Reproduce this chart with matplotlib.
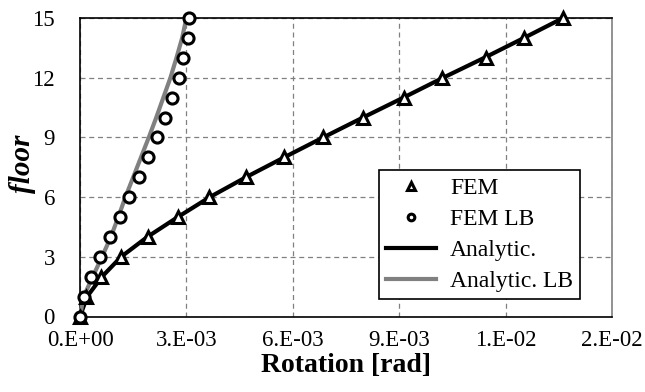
import numpy as np
import matplotlib
matplotlib.use('Agg')
import matplotlib.pyplot as plt

plt.rcParams['font.family'] = ['Liberation Serif', 'DejaVu Serif']

floors = list(range(16))
# FEM rotations [rad]
fem = [0.0, 0.17e-3, 0.59e-3, 1.15e-3, 1.91e-3, 2.77e-3, 3.65e-3, 4.68e-3,
       5.76e-3, 6.86e-3, 7.99e-3, 9.14e-3, 10.21e-3, 11.44e-3, 12.52e-3, 13.62e-3]
fem_lb = [0.0, 0.11e-3, 0.30e-3, 0.56e-3, 0.85e-3, 1.13e-3, 1.39e-3, 1.67e-3,
          1.91e-3, 2.18e-3, 2.39e-3, 2.59e-3, 2.79e-3, 2.91e-3, 3.04e-3, 3.08e-3]
# analytic curves
ana = [0.0, 0.20e-3, 0.62e-3, 1.16e-3, 1.90e-3, 2.76e-3, 3.66e-3, 4.68e-3,
       5.76e-3, 6.86e-3, 7.98e-3, 9.12e-3, 10.24e-3, 11.40e-3, 12.52e-3, 13.62e-3]
ana_lb = [0.0, 0.10e-3, 0.36e-3, 0.62e-3, 0.87e-3, 1.08e-3, 1.28e-3, 1.50e-3,
          1.72e-3, 1.94e-3, 2.15e-3, 2.35e-3, 2.55e-3, 2.72e-3, 2.88e-3, 3.00e-3]

xticks = [0, 3e-3, 6e-3, 9e-3, 12e-3, 15e-3]
xticklabels = ['0.E+00', '3.E-03', '6.E-03', '9.E-03', '1.E-02', '2.E-02']
yticks = [0, 3, 6, 9, 12, 15]

fig = plt.figure(figsize=(6.45, 3.92), dpi=100)
ax = fig.add_axes([80/645, 1-316.5/392, 532/645, 298.5/392])

ax.plot(fem, floors, linestyle='none', marker='^', ms=9, mfc='white', mec='black', mew=2.2,
        label='FEM', zorder=4, clip_on=False)
ax.plot(fem_lb, floors, linestyle='none', marker='o', ms=8, mfc='white', mec='black', mew=2.2,
        label='FEM LB', zorder=4, clip_on=False)
ax.plot(ana, floors, color='black', lw=3, label='Analytic.', zorder=3, clip_on=False)
ax.plot(ana_lb, floors, color='#808080', lw=3, label='Analytic. LB', zorder=3, clip_on=False)

ax.set_xlim(0, 15e-3)
ax.set_ylim(0, 15)
ax.set_xticks(xticks)
ax.set_xticklabels(xticklabels)
ax.set_yticks(yticks)
ax.tick_params(length=0, labelsize=16.5)
ax.tick_params(axis='x', pad=10)
ax.tick_params(axis='y', pad=18)
ax.grid(True, linestyle=(0, (4, 3)), color='#808080', lw=0.9)
ax.set_axisbelow(True)
for s in ax.spines.values():
    s.set_linewidth(1.2)
ax.spines['right'].set_color('#808080')

ax.set_xlabel('Rotation [rad]', fontsize=20, fontweight='bold')
ax.xaxis.set_label_coords(0.5, (316.5 - 353) / 298.5)
ax.set_ylabel('floor', fontsize=21, fontweight='bold', style='italic', va='center')
ax.yaxis.set_label_coords((23 - 80) / 532, (316.5 - 164) / 298.5)

leg = ax.legend(loc='lower right', bbox_to_anchor=(0.94, 0.0586), borderaxespad=0,
                fontsize=17, frameon=True, fancybox=False, edgecolor='black', framealpha=1,
                handlelength=2.1, borderpad=0.3, labelspacing=0.4, handletextpad=0.6,
                markerscale=0.6)
leg.get_frame().set_linewidth(1.2)
leg.set_zorder(10)

fig.savefig('out.png', dpi=100)
